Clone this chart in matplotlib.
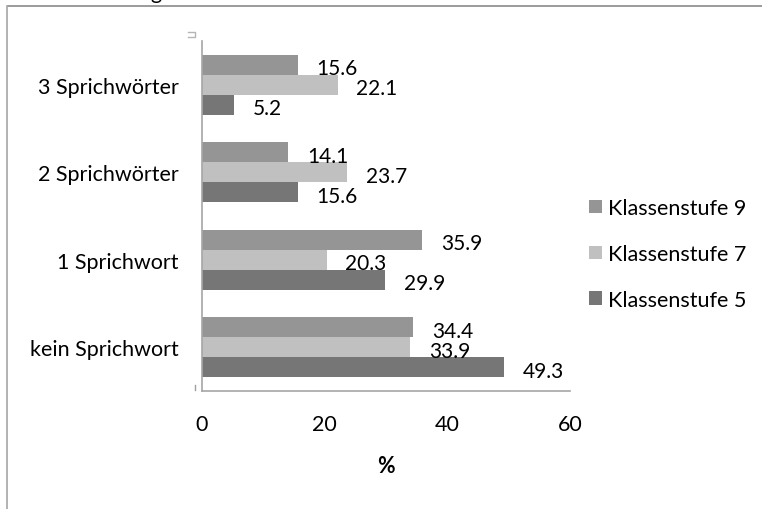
import matplotlib
matplotlib.use("Agg")
import matplotlib.pyplot as plt
from matplotlib.lines import Line2D
import numpy as np

plt.rcParams['font.family'] = ['Lato', 'DejaVu Sans']

# Data (percent of pupils)
categories = ["kein Sprichwort", "1 Sprichwort", "2 Sprichwörter", "3 Sprichwörter"]
series_names = ["Klassenstufe 9", "Klassenstufe 7", "Klassenstufe 5"]
ks9 = [34.4, 35.9, 14.1, 15.6]
ks7 = [33.9, 20.3, 23.7, 22.1]
ks5 = [49.3, 29.9, 15.6, 5.2]
x_ticks = [0, 20, 40, 60]

colors = ["#959595", "#c0c0c0", "#767676"]
W, H = 762, 510
fig = plt.figure(figsize=(W / 100, H / 100), dpi=100)
ax = fig.add_axes([202 / W, 1 - 392 / H, (570 - 202) / W, (392 - 42) / H])

y = np.arange(len(categories))
bar_h = 0.2286
offsets = [bar_h, 0.0, -bar_h]
fs = 15.5
fs_val = 15
txt = "#000000"

for vals, name, col, off in zip([ks9, ks7, ks5], series_names, colors, offsets):
    bars = ax.barh(y + off, vals, height=bar_h, color=col, label=name)
    for rect, v in zip(bars, vals):
        ax.annotate(f"{v:.1f}",
                    xy=(rect.get_width(), rect.get_y() + rect.get_height() / 2),
                    xytext=(13.5, -7.0), textcoords="offset points",
                    ha="left", va="baseline", fontsize=fs_val, color=txt)

ax.set_xlim(0, 60)
ax.set_ylim(-0.5, len(categories) - 0.5)
ax.set_xticks(x_ticks)
ax.set_yticks(y)
ax.set_yticklabels(categories)
ax.tick_params(axis="both", length=0, labelsize=fs, colors=txt)
ax.tick_params(axis="x", pad=16.5)
ax.tick_params(axis="y", pad=17)
ax.set_xlabel("%", fontsize=fs, fontweight="bold", labelpad=15, color=txt)

for s in ["top", "right"]:
    ax.spines[s].set_visible(False)
for s in ["left", "bottom"]:
    ax.spines[s].set_color("#a6a6a6")
    ax.spines[s].set_linewidth(1.2)

leg = ax.legend(loc="center left", bbox_to_anchor=(589 / W, 1 - 255 / H),
                bbox_transform=fig.transFigure, frameon=False, fontsize=fs,
                handlelength=0.6, handleheight=0.6, handletextpad=0.3,
                labelspacing=1.2, borderpad=0, borderaxespad=0)

# outer frame of the chart area
fig.add_artist(Line2D([8 / W, 1], [1 - 7 / H, 1 - 7 / H], color="#8a8a8a", lw=1.2))
fig.add_artist(Line2D([7 / W, 7 / W], [0, 1 - 7 / H], color="#a6a6a6", lw=1.2))

# small leftover marks near the value axis
fig.add_artist(Line2D([188 / W, 195 / W, 195 / W, 188 / W],
                      [1 - 33 / H, 1 - 33 / H, 1 - 38 / H, 1 - 38 / H],
                      color="#b5b5b5", lw=1.0))
fig.add_artist(Line2D([195 / W, 195 / W], [1 - 386 / H, 1 - 391 / H],
                      color="#a0a0a0", lw=1.0))

# tail of the caption above the frame
fig.text(150 / W, 1 + 1 / H, "g", fontsize=fs, ha="left", va="baseline", color=txt)

fig.savefig("out.png", dpi=100)
